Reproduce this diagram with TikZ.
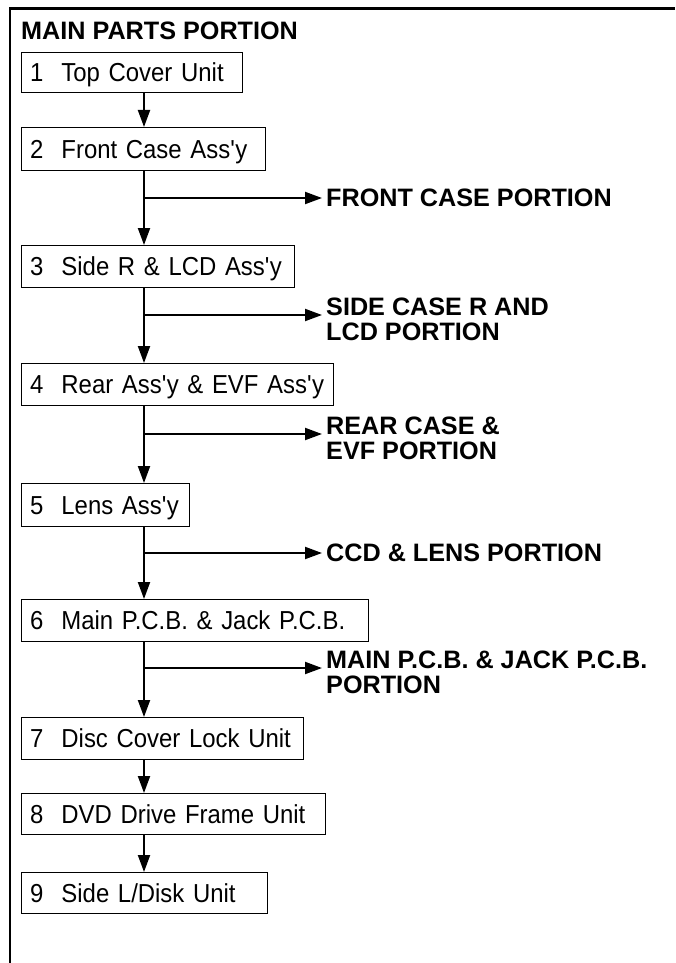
\documentclass[tikz,border=0pt]{standalone}
\usepackage{fontspec}
\setmainfont{Liberation Sans}
\newfontfamily\boxfont{Liberation Sans}[FakeStretch=0.92]
\usetikzlibrary{arrows.meta}
\begin{document}
\begin{tikzpicture}[x=1pt,y=-1pt,
  box/.style={draw, line width=1.3pt, anchor=north west, inner xsep=8.5pt, inner ysep=0pt,
    align=left, font=\boxfont\fontsize{26}{26}\selectfont, text height=18pt, text depth=0pt},
  conn/.style={line width=2pt, -{Triangle[length=17pt,width=12pt]}},
  lab/.style={inner sep=0pt, align=left, font=\fontsize{25.2}{25}\selectfont\bfseries},
  frameline/.style={line width=2.7pt}]
\useasboundingbox (0,0) rectangle (675,963);
% frame
\draw[frameline] (10,963) -- (10,8.5) -- (675,8.5);
% title
\node[lab, anchor=base west] (title) at (21,40) {MAIN PARTS PORTION};
% boxes
\node[box, text width=204pt, minimum height=40pt] (b1) at (21,52) {\mbox{1\hspace{18pt}Top Cover Unit}};
\node[box, text width=227pt, minimum height=43pt] (b2) at (21,127) {\mbox{2\hspace{18pt}Front Case Ass\textquotesingle y}};
\node[box, text width=256pt, minimum height=42pt] (b3) at (21,245) {\mbox{3\hspace{18pt}Side R \& LCD Ass\textquotesingle y}};
\node[box, text width=295pt, minimum height=42pt] (b4) at (21,363) {\mbox{4\hspace{18pt}Rear Ass\textquotesingle y \& EVF Ass\textquotesingle y}};
\node[box, text width=151pt, minimum height=43pt] (b5) at (21,483) {\mbox{5\hspace{18pt}Lens Ass\textquotesingle y}};
\node[box, text width=330pt, minimum height=42pt] (b6) at (21,599) {\mbox{6\hspace{18pt}Main P.C.B. \& Jack P.C.B.}};
\node[box, text width=265pt, minimum height=42pt] (b7) at (21,717) {\mbox{7\hspace{18pt}Disc Cover Lock Unit}};
\node[box, text width=287pt, minimum height=41pt] (b8) at (21,793) {\mbox{8\hspace{18pt}DVD Drive Frame Unit}};
\node[box, text width=229pt, minimum height=41pt] (b9) at (21,872) {\mbox{9\hspace{18pt}Side L/Disk Unit}};
% labels
\node[lab, anchor=west] (l1) at (326,198) {FRONT CASE PORTION};
\node[lab, anchor=north west] (l2) at (326,298) {SIDE CASE R AND\\LCD PORTION};
\node[lab, anchor=north west] (l3) at (326,417) {REAR CASE \&\\EVF PORTION};
\node[lab, anchor=west] (l4) at (326,553) {CCD \& LENS PORTION};
\node[lab, anchor=north west] (l5) at (326,651) {MAIN P.C.B. \& JACK P.C.B.\\PORTION};
% spine and junctions
\coordinate (sp) at (144,0);
\coordinate (j1) at (144,198);
\coordinate (j2) at (144,315);
\coordinate (j3) at (144,434);
\coordinate (j4) at (144,553);
\coordinate (j5) at (144,668);
% vertical connectors
\draw[conn] (b1.south -| sp) -- (b2.north -| sp);
\draw[conn] (b2.south -| sp) -- (b3.north -| sp);
\draw[conn] (b3.south -| sp) -- (b4.north -| sp);
\draw[conn] (b4.south -| sp) -- (b5.north -| sp);
\draw[conn] (b5.south -| sp) -- (b6.north -| sp);
\draw[conn] (b6.south -| sp) -- (b7.north -| sp);
\draw[conn] (b7.south -| sp) -- (b8.north -| sp);
\draw[conn] (b8.south -| sp) -- (b9.north -| sp);
% branch connectors
\draw[conn, shorten >=4pt] (j1) -- (j1 -| l1.west);
\draw[conn, shorten >=4pt] (j2) -- (j2 -| l2.west);
\draw[conn, shorten >=4pt] (j3) -- (j3 -| l3.west);
\draw[conn, shorten >=4pt] (j4) -- (j4 -| l4.west);
\draw[conn, shorten >=4pt] (j5) -- (j5 -| l5.west);
\end{tikzpicture}
\end{document}
